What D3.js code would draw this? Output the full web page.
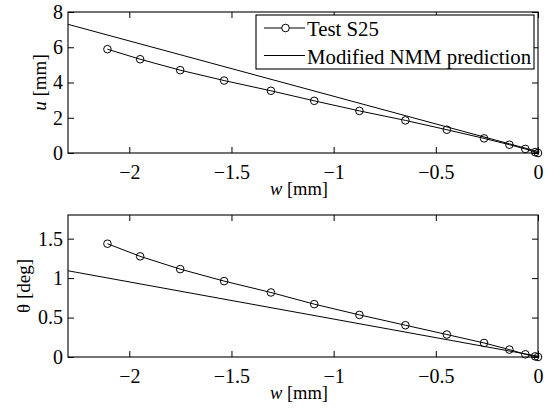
<!DOCTYPE html>
<html><head><meta charset="utf-8">
<script src="https://cdn.jsdelivr.net/npm/d3@7"></script>
<style>body{margin:0;background:#fff}svg{display:block}</style>
</head><body><svg id="c" width="549" height="410"></svg>
<script>
const wTest = [-2.107,-1.947,-1.751,-1.536,-1.307,-1.095,-0.874,-0.649,-0.446,-0.264,-0.140,-0.062,-0.014,0];
const uTest = [5.89,5.32,4.70,4.11,3.53,2.96,2.39,1.85,1.32,0.83,0.47,0.23,0.05,0];
const thetaTest = [1.436,1.276,1.114,0.962,0.818,0.670,0.534,0.403,0.285,0.178,0.094,0.034,0.008,0];
const wPred = [-2.3,0];
const uPred = [7.30,0.08];
const thetaPred = [1.093,0.01];
const xTicks = [-2,-1.5,-1,-0.5,0];
const uTicks = [0,2,4,6,8];
const thetaTicks = [0,0.5,1,1.5];
const legendLabels = ["Test S25","Modified NMM prediction"];

const FONT = "Liberation Serif";
const svg = d3.select("#c");
const L = 68, R = 538;
const fmt = v => (v<0? "\u2212" : "") + Math.abs(v);

function panel(top, bottom, yDomain, yTicks, yVals, yPred, yName, unit, italic, labelX) {
  const x = d3.scaleLinear().domain([-2.3,0]).range([L,R]);
  const y = d3.scaleLinear().domain(yDomain).range([bottom,top]);
  const g = svg.append("g");
  const line = d3.line().x(d=>x(d[0])).y(d=>y(d[1]));
  g.append("path").datum(wPred.map((w,i)=>[w,yPred[i]])).attr("d",line)
    .attr("fill","none").attr("stroke","#000").attr("stroke-width",1);
  g.append("path").datum(wTest.map((w,i)=>[w,yVals[i]])).attr("d",line)
    .attr("fill","none").attr("stroke","#000").attr("stroke-width",1);
  g.selectAll("circle").data(wTest.map((w,i)=>[w,yVals[i]])).enter().append("circle")
    .attr("cx",d=>x(d[0])).attr("cy",d=>y(d[1])).attr("r",3.8)
    .attr("fill","none").attr("stroke","#000").attr("stroke-width",1);
  const ax = (gen, tr) => {
    const a = svg.append("g").attr("transform",tr).attr("font-family",null).call(gen);
    a.attr("font-family",FONT).attr("font-size",20);
    a.select(".domain").remove();
    a.selectAll("line").attr("stroke","#000");
    a.selectAll("text").style("font-family",FONT).style("font-size","20px").attr("fill","#000");
    return a;
  };
  const xa = ax(d3.axisBottom(x).tickValues(xTicks).tickSize(-6).tickPadding(0).tickFormat(fmt), `translate(0,${bottom})`);
  xa.selectAll("text").attr("dy",null).attr("y",26);
  ax(d3.axisTop(x).tickValues(xTicks).tickSize(-6).tickFormat(""), `translate(0,${top})`);
  ax(d3.axisLeft(y).tickValues(yTicks).tickSize(-6).tickPadding(5).tickFormat(d=>String(d)), `translate(${L},0)`);
  ax(d3.axisRight(y).tickValues(yTicks).tickSize(-6).tickFormat(""), `translate(${R},0)`);
  svg.append("rect").attr("x",L).attr("y",top).attr("width",R-L).attr("height",bottom-top)
    .attr("fill","none").attr("stroke","#000").attr("stroke-width",1.1);
  const xl = svg.append("text").attr("x",(L+R)/2 - 4).attr("y",bottom+42).attr("text-anchor","middle")
    .style("font-family",FONT).style("font-size","18.5px");
  xl.append("tspan").style("font-style","italic").text("w");
  xl.append("tspan").text(" [mm]");
  const yl = svg.append("text").attr("transform",`translate(${labelX},${(top+bottom)/2}) rotate(-90)`).attr("text-anchor","middle")
    .style("font-family",FONT).style("font-size","19px");
  yl.append("tspan").style("font-style",italic?"italic":"normal").text(yName);
  yl.append("tspan").text(" [" + unit + "]");
}

panel(12, 153, [0,8], uTicks, uTest, uPred, "u", "mm", true, 46);
panel(215, 357, [0,1.8], thetaTicks, thetaTest, thetaPred, "\u03b8", "deg", false, 30);

const lg = svg.append("g");
lg.append("rect").attr("x",256).attr("y",15).attr("width",278).attr("height",54)
  .attr("fill","#fff").attr("stroke","#000").attr("stroke-width",1.1);
const rows = [28, 55.5];
legendLabels.forEach((t,i)=>{
  lg.append("line").attr("x1",264).attr("x2",305).attr("y1",rows[i]).attr("y2",rows[i]).attr("stroke","#000");
  if(i===0) lg.append("circle").attr("cx",285.5).attr("cy",rows[i]).attr("r",3.8).attr("fill","#fff").attr("stroke","#000");
  lg.append("text").attr("x",307).attr("y",rows[i]+8).style("font-family",FONT).style("font-size","20.8px").text(t);
});
</script></body></html>
